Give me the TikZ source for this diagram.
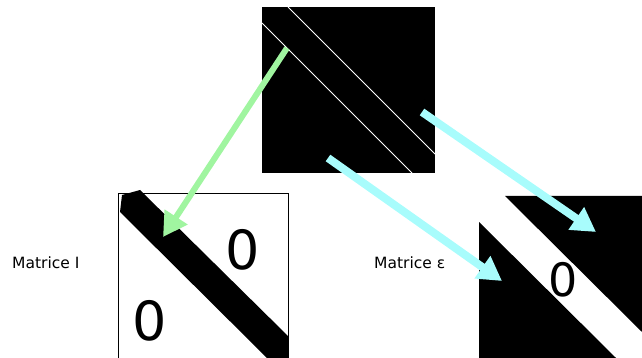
\documentclass[tikz,border=0pt]{standalone}
\usepackage{fontspec}
\setmainfont{DejaVu Sans}
\usepackage{tikz}
\usetikzlibrary{arrows.meta}
\definecolor{vert}{RGB}{160,245,160}
\definecolor{cyanclair}{RGB}{168,252,252}
\tikzset{
  label/.style={anchor=west,inner sep=0pt,font=\fontsize{15.5}{17}\selectfont},
  zero/.style={inner sep=0pt,font=\fontsize{#1}{#1}\selectfont},
  fleche/.style={line width=#1,-{Triangle[length=24pt,width=26pt]}},
}
\begin{document}
\begin{tikzpicture}[x=1pt,y=-1pt]
\useasboundingbox (0,0) rectangle (642,358);
% matrice du haut:
\path[fill=black] (262,7) rectangle (435,173);
\path[draw=white,line width=0.8pt] (262,23) -- (412,173);
\path[draw=white,line width=0.8pt] (288,7) -- (435,154);
\coordinate (hautG) at (287,48);
\coordinate (hautD) at (422,112);
\coordinate (hautB) at (328,158);
% matrice I:
\path[draw=black,fill=white] (288,358) -- (288,193) -- (118,193) -- (118,358);
\path[fill=black] (120,212) -- (122,195) -- (140,190) -- (288,336) -- (288,358) -- (267,358) -- cycle;
\node[zero=54] (zeroH) at (243,250) {0};
\node[zero=54] (zeroB) at (150,321) {0};
\node[label] (matI) at (12,263) {Matrice I};
\coordinate (cibleI) at (163,237);
% matrice epsilon:
\path[fill=black] (479,222) -- (616,358) -- (479,358) -- cycle;
\path[fill=black] (505,196) -- (642,196) -- (642,332) -- cycle;
\node[zero=46] (zeroE) at (563,280) {0};
\node[label] (matE) at (374,263) {Matrice ε};
\coordinate (cibleE) at (502,281);
\coordinate (cibleF) at (596,232);
% fleches:
\draw[vert,fleche=6pt] (hautG) -- (cibleI);
\draw[cyanclair,fleche=8pt] (hautD) -- (cibleF);
\draw[cyanclair,fleche=8pt] (hautB) -- (cibleE);
\end{tikzpicture}
\end{document}
